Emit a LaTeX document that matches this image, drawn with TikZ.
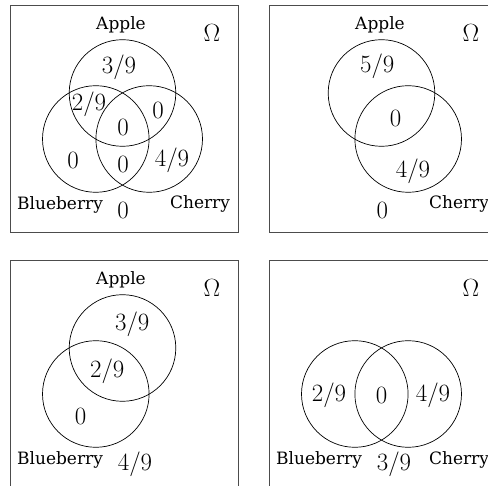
\documentclass[tikz,border=0pt]{standalone}
\usepackage{fontspec}
\newfontfamily\labfont{DejaVu Serif}
\begin{document}
\begin{tikzpicture}[x=1pt,y=-1pt,
  frame/.style={draw=black!70,line width=0.9pt},
  setc/.style={circle,draw,line width=0.7pt,minimum size=106.6pt,inner sep=0pt},
  lab/.style={inner sep=0pt,font=\labfont\fontsize{17}{17}\selectfont},
  num/.style={inner sep=0pt,font=\fontsize{23}{23}\selectfont},
  omg/.style={inner sep=0pt,font=\fontsize{26}{26}\selectfont}]
\useasboundingbox (0,0) rectangle (488,486);
% Panel 1
\begin{scope}
  \node[frame,minimum width=228pt,minimum height=227pt,anchor=north west,inner sep=0pt] (F1) at (10,5) {};
  \node[setc] (A1) at (122.5,93) {};
  \node[setc] (B1) at (95.8,139) {};
  \node[setc] (C1) at (149.2,139) {};
  \node[lab] (LA1) at (121,25) {Apple};
  \node[omg] (O1) at (212,33) {$\Omega$};
  \node[lab] (LB1) at (60,205) {Blueberry};
  \node[lab] (LC1) at (200,204) {Cherry};
  \node[num] (n1a) at (119,67) {$3/9$};
  \node[num] (n1b) at (89,104) {$2/9$};
  \node[num] (n1c) at (158,110) {$0$};
  \node[num] (n1d) at (123,127) {$0$};
  \node[num] (n1e) at (73,160) {$0$};
  \node[num] (n1f) at (123,164) {$0$};
  \node[num] (n1g) at (172,160) {$4/9$};
  \node[num] (n1h) at (123,210) {$0$};
\end{scope}
% Panel 2
\begin{scope}[shift={(259,0)}]
  \node[frame,minimum width=228pt,minimum height=227pt,anchor=north west,inner sep=0pt] (F2) at (10,5) {};
  \node[setc] (A2) at (122.5,93) {};
  \node[setc] (C2) at (149.2,139) {};
  \node[lab] (LA2) at (121,25) {Apple};
  \node[omg] (O2) at (212,33) {$\Omega$};
  \node[lab] (LC2) at (200,204) {Cherry};
  \node[num] (n2a) at (118.3,66) {$5/9$};
  \node[num] (n2b) at (136.7,118.3) {$0$};
  \node[num] (n2c) at (154,171.7) {$4/9$};
  \node[num] (n2d) at (123.3,210.7) {$0$};
\end{scope}
% Panel 3
\begin{scope}[shift={(0,255)}]
  \node[frame,minimum width=228pt,minimum height=227pt,anchor=north west,inner sep=0pt] (F3) at (10,5) {};
  \node[setc] (A3) at (122.5,93) {};
  \node[setc] (B3) at (95.8,139) {};
  \node[lab] (LA3) at (121,25) {Apple};
  \node[omg] (O3) at (212,33) {$\Omega$};
  \node[lab] (LB3) at (60,205) {Blueberry};
  \node[num] (n3a) at (132.3,69) {$3/9$};
  \node[num] (n3b) at (107.3,116.3) {$2/9$};
  \node[num] (n3c) at (80.7,161.3) {$0$};
  \node[num] (n3d) at (135,209.7) {$4/9$};
\end{scope}
% Panel 4
\begin{scope}[shift={(259,255)}]
  \node[frame,minimum width=228pt,minimum height=227pt,anchor=north west,inner sep=0pt] (F4) at (10,5) {};
  \node[setc] (B4) at (95.8,139) {};
  \node[setc] (C4) at (149.2,139) {};
  \node[omg] (O4) at (212,33) {$\Omega$};
  \node[lab] (LB4) at (60,205) {Blueberry};
  \node[lab] (LC4) at (200,205) {Cherry};
  \node[num] (n4a) at (70,140.7) {$2/9$};
  \node[num] (n4b) at (122.7,140.7) {$0$};
  \node[num] (n4c) at (174,140.7) {$4/9$};
  \node[num] (n4d) at (135,209.7) {$3/9$};
\end{scope}
\end{tikzpicture}
\end{document}
